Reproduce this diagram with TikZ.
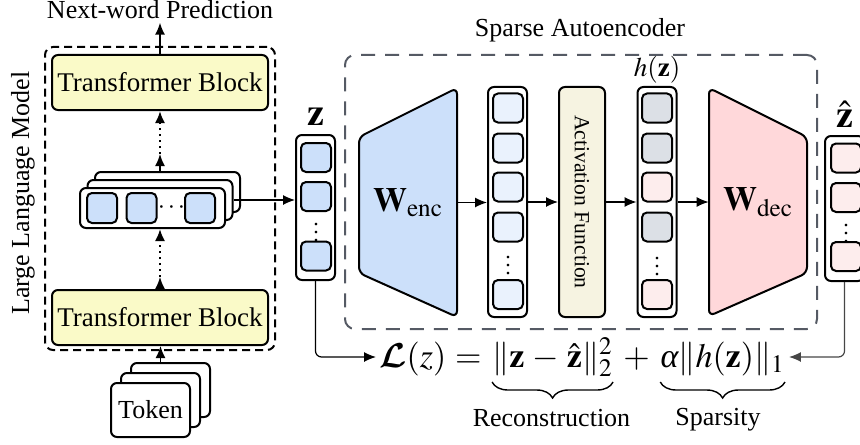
\documentclass[tikz,border=0pt]{standalone}
\usepackage{mathptmx}
\usepackage{fontspec}
\setmainfont{Liberation Serif}
\usepackage{graphicx}
\usetikzlibrary{arrows.meta,calc,decorations.pathreplacing}
\DeclareMathAlphabet{\mathcalb}{OMS}{cmsy}{b}{n}
\definecolor{tbyellow}{RGB}{250,250,200}
\definecolor{cblue}{RGB}{204,224,250}
\definecolor{lblue}{RGB}{234,242,253}
\definecolor{cream}{RGB}{246,243,225}
\definecolor{cgrey}{RGB}{220,224,230}
\definecolor{lpink}{RGB}{253,237,237}
\definecolor{dpink}{RGB}{255,216,218}
\definecolor{saegray}{RGB}{85,90,100}
\definecolor{linegray}{RGB}{70,70,70}
\begin{document}
\begin{tikzpicture}[x=0.5pt,y=-0.5pt,
  font=\fontsize{13}{16}\selectfont,
  tbbox/.style={draw, line width=1pt, fill=tbyellow, rounded corners=3pt, minimum width=108pt, minimum height=27.5pt, inner sep=0pt, font=\fontsize{13.5}{16}\selectfont},
  llmbox/.style={draw, line width=1pt, dash pattern=on 4pt off 2.5pt, rounded corners=4pt, minimum width=115pt, minimum height=151.5pt, inner sep=0pt},
  saebox/.style={draw=saegray, line width=1pt, dash pattern=on 7pt off 5pt, rounded corners=5pt, minimum width=236pt, minimum height=137pt, inner sep=0pt},
  vec/.style={draw, line width=1pt, rounded corners=3pt, fill=white, inner sep=0pt, minimum width=19.5pt},
  layer/.style={draw, line width=1pt, rounded corners=3pt, fill=white, inner sep=0pt, minimum width=72.5pt, minimum height=20pt},
  tok/.style={draw, line width=1pt, rounded corners=3pt, fill=white, inner sep=0pt, minimum width=39.5pt, minimum height=27pt},
  cell/.style={draw, line width=1pt, rounded corners=2.5pt, minimum width=15pt, minimum height=14.5pt, inner sep=0pt},
  vdot/.style={inner sep=0pt, font=\fontsize{11}{12}\selectfont},
  tip/.style={line width=0.8pt, -{Latex[length=6pt,width=5pt]}},
  conn/.style={line width=0.6pt, -{Latex[length=6pt,width=5pt]}},
  dotconn/.style={line width=1pt, dotted, -{Latex[length=6pt,width=5pt]}},
  trap/.style={draw, line width=1pt, rounded corners=3pt},
  eq/.style={inner sep=0pt, anchor=base west, font=\fontsize{17}{21}\selectfont},
  brc/.style={decorate, decoration={brace, amplitude=8pt, mirror}, line width=0.7pt}
]
\useasboundingbox (0,0) rectangle (860,444);

% ---------------- LLM ----------------
\node[llmbox] (llm) at (160,198.5) {};
\node[rotate=90] (llmlabel) at (23,193) {Large Language Model};
\node[tbbox] (tb1) at (160,317.5) {Transformer Block};
\node[tbbox] (tb2) at (160,82.5) {Transformer Block};
\node[anchor=base, inner sep=1.5pt] (next) at (160,19) {Next-word Prediction};

\node[layer] (hb) at (167.5,192) {};
\node[layer] (hm) at (160,200) {};
\node[layer] (hf) at (152.5,208) {};
\node[cell, fill=cblue, minimum height=15pt] (c1) at (102,208) {};
\node[cell, fill=cblue, minimum height=15pt] (c2) at (141.5,208) {};
\node[cell, fill=cblue, minimum height=15pt] (c3) at (200,208) {};
\node[inner sep=0pt] (cdots) at (171.5,208) {$\cdots$};

\node[tok] (tk3) at (170.5,390) {};
\node[tok] (tk2) at (160.5,400) {};
\node[tok] (tk1) at (150.5,410) {Token};

\draw[tip] (tk2 |- tk3.north) -- (tk2 |- tb1.south);
\coordinate (a1) at ($(hm |- tb1.north)+(0,-12)$);
\draw[tip] (hm |- tb1.north) -- (a1);
\draw[dotconn] (a1) -- (hm |- hf.south);
\coordinate (a2) at ($(hm |- hb.north)+(0,-17)$);
\draw[tip] (hm |- hb.north) -- (a2);
\draw[dotconn] (a2) -- (hm |- tb2.south);
\draw[tip] (tb2.north) -- (next.south);

% ---------------- SAE ----------------
\node[saebox] (sae) at (581,192) {};
\node (saelabel) at (580,30) {Sparse Autoencoder};

% z vector
\node[vec, minimum height=72.5pt] (z) at (315.5,207.5) {};
\node[cell, fill=cblue] (z1) at (316,157.5) {};
\node[cell, fill=cblue] (z2) at (316,196.5) {};
\node[vdot] (z3) at (316,227) {$\vdots$};
\node[cell, fill=cblue] (z4) at (316,256) {};
\node[anchor=base, inner sep=0pt, font=\fontsize{19}{22}\selectfont] (zlabel) at (315.5,125) {$\mathbf{z}$};

\draw[conn] (hm.east) -- (hm.east -| z.west);

% encoder
\draw[trap, fill=cblue] (359,137) -- (457,88) -- (457,317) -- (359,273) -- cycle;
\node[minimum width=49pt, minimum height=114.5pt, inner sep=0pt, font=\fontsize{17}{20}\selectfont] (wenc) at (408,202.5) {$\mathbf{W}_{\mathrm{enc}}$};

% hidden vector
\node[vec, minimum height=115pt] (enc) at (507.5,202) {};
\node[cell, fill=lblue] (e1) at (508,108) {};
\node[cell, fill=lblue] (e2) at (508,148) {};
\node[cell, fill=lblue] (e3) at (508,187) {};
\node[cell, fill=lblue] (e4) at (508,227) {};
\node[vdot] (e5) at (508,260) {$\vdots$};
\node[cell, fill=lblue] (e6) at (508,294.5) {};

% activation
\node[draw, line width=1pt, fill=cream, rounded corners=3pt, minimum width=23pt, minimum height=115pt, inner sep=0pt] (act) at (582,202) {\rotatebox{-90}{\fontsize{10.8}{12}\selectfont Activation Function}};

% h(z)
\node[vec, minimum height=115pt] (hz) at (657,202) {};
\node[cell, fill=cgrey] (h1) at (657,108) {};
\node[cell, fill=cgrey] (h2) at (657,148) {};
\node[cell, fill=lpink] (h3) at (657,187) {};
\node[cell, fill=cgrey] (h4) at (657,227) {};
\node[vdot] (h5) at (657,261) {$\vdots$};
\node[cell, fill=lpink] (h6) at (657,294.5) {};
\node[anchor=south, inner sep=1pt, font=\fontsize{13.5}{16}\selectfont] (hzlabel) at (hz.north) {$h(\mathbf{z})$};

% decoder
\draw[trap, fill=dpink] (709,88) -- (807,137) -- (807,273) -- (709,316) -- cycle;
\node[minimum width=49pt, minimum height=114pt, inner sep=0pt, font=\fontsize{17}{20}\selectfont] (wdec) at (758,202) {$\mathbf{W}_{\mathrm{dec}}$};

% zhat vector
\node[vec, minimum height=72.5pt] (zh) at (844.5,208.5) {};
\node[cell, fill=lpink] (zh1) at (846,158) {};
\node[cell, fill=lpink] (zh2) at (846,197.5) {};
\node[vdot] (zh3) at (846,228) {$\vdots$};
\node[cell, fill=lpink] (zh4) at (846,256.5) {};
\node[anchor=base, inner sep=0pt, font=\fontsize{19}{22}\selectfont] (zhlabel) at (845,127) {$\hat{\mathbf{z}}$};

% SAE arrows
\draw[conn] (wenc.east) -- (wenc.east -| enc.west);
\draw[conn] (enc.east) -- (enc.east -| act.west);
\draw[conn] (act.east) -- (act.east -| hz.west);
\draw[conn] (hz.east) -- (hz.east -| wdec.west);

% ---------------- Loss ----------------
\node[eq] (lossA) at (379,367) {$\mathcalb{L}(z)\hspace{4.5pt}{=}\hspace{5pt}$};
\node[eq] (lossB) at (lossA.base east) {$\|\mathbf{z}\hspace{4pt}{-}\hspace{4pt}\hat{\mathbf{z}}\|_2^2$};
\node[eq] (lossC) at (lossB.base east) {$\hspace{5pt}{+}\hspace{5pt}$};
\node[eq] (lossD) at (lossC.base east) {$\mbox{\itshape α}\|h(\mathbf{z})\|_1$};
\draw[conn, rounded corners=3pt] (z.south) |- ([xshift=-1.5pt,yshift=5pt]lossA.base west);
\draw[conn, draw=linegray, rounded corners=3pt] (zh.south) |- ([xshift=2pt,yshift=5pt]lossD.base east);
\draw[brc] ([yshift=-7.5pt]lossB.base west) -- ([yshift=-7.5pt]lossB.base east);
\draw[brc] ([yshift=-7.5pt]lossD.base west) -- ([yshift=-7.5pt]lossD.base east);
\node (rec) at (551.5,418) {Reconstruction};
\node (spa) at (718,420) {Sparsity};
\end{tikzpicture}
\end{document}
